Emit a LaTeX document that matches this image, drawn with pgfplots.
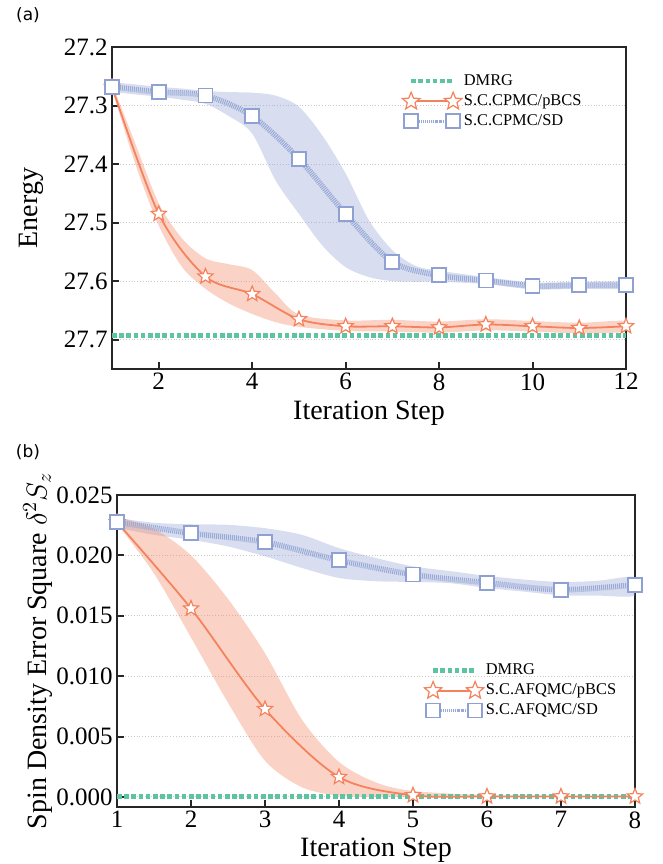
\documentclass[border=0pt]{standalone}
\usepackage{fontspec}
\setmainfont{Liberation Serif}
\newfontfamily\panelfont{DejaVu Sans}
\usepackage{pgfplots}
\usepackage{pgfplotstable}
\pgfplotsset{compat=1.18}

\definecolor{cOr}{HTML}{F4825C}
\definecolor{cBl}{HTML}{8FA1D2}
\definecolor{cGr}{HTML}{5CC49E}

% outlined five-point star
\pgfdeclareplotmark{ostar}{%
  \pgfpathmoveto{\pgfpointpolar{90}{\pgfplotmarksize}}%
  \pgfpathlineto{\pgfpointpolar{126}{0.44\pgfplotmarksize}}%
  \pgfpathlineto{\pgfpointpolar{162}{\pgfplotmarksize}}%
  \pgfpathlineto{\pgfpointpolar{198}{0.44\pgfplotmarksize}}%
  \pgfpathlineto{\pgfpointpolar{234}{\pgfplotmarksize}}%
  \pgfpathlineto{\pgfpointpolar{270}{0.44\pgfplotmarksize}}%
  \pgfpathlineto{\pgfpointpolar{306}{\pgfplotmarksize}}%
  \pgfpathlineto{\pgfpointpolar{342}{0.44\pgfplotmarksize}}%
  \pgfpathlineto{\pgfpointpolar{18}{\pgfplotmarksize}}%
  \pgfpathlineto{\pgfpointpolar{54}{0.44\pgfplotmarksize}}%
  \pgfpathclose
  \pgfusepathqfillstroke
}

% (a) energy -- means, and bands written as closed outlines
\pgfplotstableread{
x y
1 27.268
2 27.485
3 27.592
4 27.622
5 27.665
6 27.677
7 27.677
8 27.679
9 27.674
10 27.677
11 27.680
12 27.677
}\EbcsMean
\pgfplotstableread{
x y
1 27.262
1.5 27.365
2 27.467
2.5 27.527
3 27.561
3.5 27.571
4 27.581
4.5 27.621
5 27.657
6 27.667
7 27.666
8 27.669
9 27.665
10 27.668
11 27.671
12 27.668
12 27.686
11 27.689
10 27.686
9 27.684
8 27.688
7 27.686
6 27.685
5 27.678
4.5 27.670
4 27.656
3.5 27.638
3 27.613
2.5 27.576
2 27.505
1.5 27.400
1 27.272
}\EbcsBand
\pgfplotstableread{
x y
1 27.268
2 27.277
3 27.283
4 27.318
5 27.391
6 27.485
7 27.567
8 27.590
9 27.599
10 27.608
11 27.607
12 27.607
}\EsdMean
\pgfplotstableread{
x y
1 27.260
1.5 27.264
2 27.268
2.5 27.271
3 27.275
3.5 27.277
4 27.278
4.5 27.283
5 27.302
5.5 27.351
6 27.416
6.5 27.496
7 27.547
7.5 27.574
8 27.582
9 27.593
10 27.602
11 27.601
12 27.601
12 27.613
11 27.613
10 27.614
9 27.605
8 27.601
7.5 27.601
7 27.600
6.5 27.593
6 27.576
5.5 27.539
5 27.485
4.5 27.428
4 27.348
3.5 27.318
3 27.297
2.5 27.290
2 27.285
1.5 27.281
1 27.277
}\EsdBand

% (b) spin density error
\pgfplotstableread{
x y
1 0.02275
2 0.01560
3 0.00728
4 0.00165
5 0.00014
6 0.00004
7 0.00004
8 0.00004
}\SbcsMean
\pgfplotstableread{
x y
1 0.02320
1.5 0.02220
2 0.02000
2.5 0.01640
3 0.01190
3.5 0.00640
4 0.00290
4.5 0.00120
5 0.00050
6 0.00015
7 0.00010
8 0.00010
8 0.00000
7 0.00000
6 0.00000
5 0.00000
4.5 0.00000
4 0.00010
3.5 0.00080
3 0.00300
2.5 0.00780
2 0.01320
1.5 0.01850
1 0.02262
}\SbcsBand
\pgfplotstableread{
x y
1 0.02275
2 0.02184
3 0.02110
4 0.01959
5 0.01841
6 0.01773
7 0.01715
8 0.01757
}\SsdMean
\pgfplotstableread{
x y
1 0.02310
1.5 0.02270
2 0.02258
2.5 0.02253
3 0.02225
3.5 0.02170
4 0.02060
4.5 0.01978
5 0.01909
5.5 0.01870
6 0.01830
6.5 0.01800
7 0.01780
7.5 0.01790
8 0.01820
8 0.01667
7.5 0.01667
7 0.01670
6.5 0.01700
6 0.01730
5.5 0.01770
5 0.01780
4.5 0.01786
4 0.01813
3.5 0.01896
3 0.01992
2.5 0.02074
2 0.02129
1.5 0.02170
1 0.02230
}\SsdBand

\pgfplotsset{
  panel/.style={
    scale only axis, anchor=center,
    axis line style={line width=1pt, black!85},
    tick pos=left, tick align=inside,
    major tick length=3.5pt,
    every tick/.style={line width=1pt, black!85},
    ymajorgrids, major grid style={gray!40, densely dotted, line width=0.5pt},
    tick label style={font=\fontsize{12.5}{14}\selectfont},
    xticklabel style={inner sep=2pt},
    yticklabel style={inner sep=2pt},
    legend cell align=left,
    legend style={draw=none, fill=none, anchor=north west,
      font=\fontsize{8.2}{9}\selectfont, row sep=1pt,
      nodes={inner sep=1pt}},
  },
  band/.style={draw=none, smooth, forget plot, fill opacity=0.35},
  dmrg/.style={cGr, line width=2.5pt, dash pattern=on 2.3pt off 1.3pt,
    legend image code/.code={\draw[line width=2.2pt] plot coordinates {(0pt,0pt) (21pt,0pt)};}},
  bcs/.style={cOr, line width=0.9pt, smooth, mark=ostar, mark size=4pt,
    mark options={solid, fill=white, draw=cOr, line width=0.6pt},
    legend image code/.code={\draw[mark repeat=1, mark size=4.6pt] plot coordinates {(0pt,0pt) (21pt,0pt)};}},
  sd/.style={cBl!90, line width=2.8pt, dash pattern=on 0.5pt off 0.5pt, smooth,
    mark=square*, mark size=3.5pt,
    mark options={solid, fill=white, draw=cBl, line width=0.9pt},
    legend image code/.code={\draw[mark repeat=1, line width=1.6pt] plot coordinates {(0pt,0pt) (21pt,0pt)};}},
}

\begin{document}
\begin{tikzpicture}
\useasboundingbox (0,0) rectangle (331.5pt,432pt);

\begin{axis}[panel, at={(184.5pt,328pt)},
  width=257pt, height=161pt,
  xmin=1, xmax=12, ymin=27.2, ymax=27.75, y dir=reverse,
  xtick={2,4,6,8,10,12}, xticklabels={2,4,6,8,10,12},
  ytick={27.2,27.3,27.4,27.5,27.6,27.7},
  yticklabels={27.2,27.3,27.4,27.5,27.6,27.7},
  legend style={at={(0.5525,0.935)}},
]
\addplot[band, fill=cBl] table[x=x, y=y] {\EsdBand} -- cycle;
\addplot[band, fill=cOr] table[x=x, y=y] {\EbcsBand} -- cycle;
\addplot[dmrg] coordinates {(1,27.692) (12,27.692)};
\addlegendentry{DMRG}
\addplot[bcs] table[x=x, y=y] {\EbcsMean};
\addlegendentry{S.C.CPMC/pBCS}
\addplot[sd] table[x=x, y=y] {\EsdMean};
\addlegendentry{S.C.CPMC/SD}
\end{axis}

\begin{axis}[panel, at={(188pt,106.5pt)},
  width=259pt, height=156pt,
  xmin=1, xmax=8, ymin=-0.00083, ymax=0.025,
  xtick={1,2,3,4,5,6,7,8}, xticklabels={1,2,3,4,5,6,7,8},
  ytick={0,0.005,0.01,0.015,0.02,0.025},
  yticklabels={0.000,0.005,0.010,0.015,0.020,0.025},
  scaled y ticks=false,
  legend style={at={(0.581,0.48)}},
]
\addplot[band, fill=cBl] table[x=x, y=y] {\SsdBand} -- cycle;
\addplot[band, fill=cOr] table[x=x, y=y] {\SbcsBand} -- cycle;
\addplot[dmrg] coordinates {(1,0) (8,0)};
\addlegendentry{DMRG}
\addplot[bcs] table[x=x, y=y] {\SbcsMean};
\addlegendentry{S.C.AFQMC/pBCS}
\addplot[sd] table[x=x, y=y] {\SsdMean};
\addlegendentry{S.C.AFQMC/SD}
\end{axis}

% panel tags and axis titles
\node[font=\panelfont\fontsize{8.5}{10}\selectfont] at (14pt,424.5pt) {(a)};
\node[font=\panelfont\fontsize{8.5}{10}\selectfont] at (14pt,206pt) {(b)};
\node[rotate=90, font=\fontsize{14}{16}\selectfont] at (15.5pt,328pt) {Energy};
\node[anchor=base, font=\fontsize{14}{16}\selectfont] at (184.5pt,222pt) {Iteration Step};
\node[rotate=90, font=\fontsize{14}{16}\selectfont] at (19pt,106.5pt) {Spin Density Error Square $\delta^2 S_z$};
\node[anchor=base, font=\fontsize{14}{16}\selectfont] at (188pt,4pt) {Iteration Step};
\end{tikzpicture}
\end{document}
